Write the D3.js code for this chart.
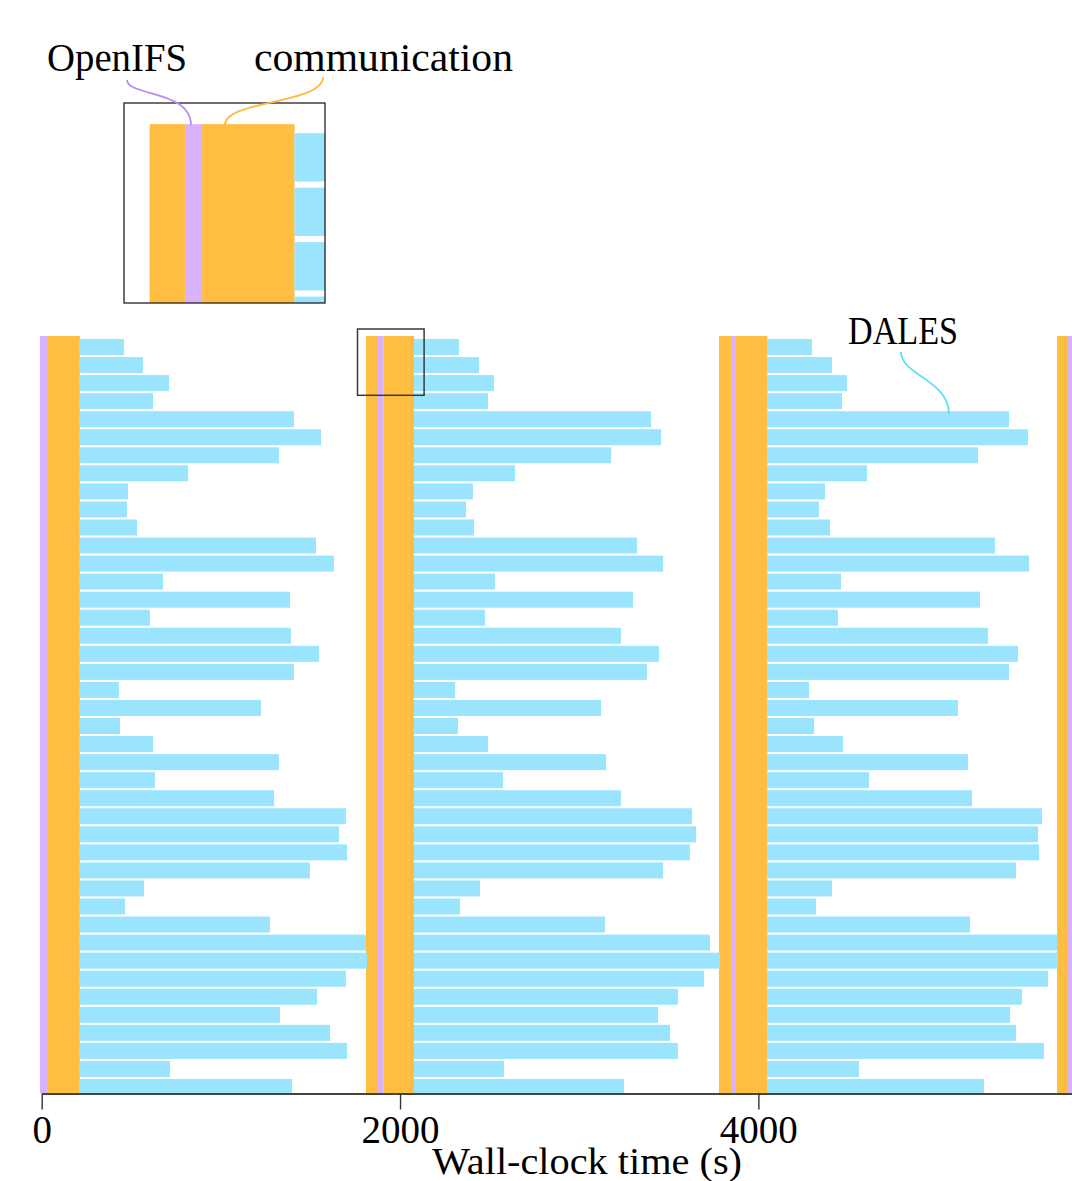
<!DOCTYPE html>
<html>
<head>
<meta charset="utf-8">
<script src="https://cdn.jsdelivr.net/npm/d3@7"></script>
<style>
  body { margin: 0; background: #fff; }
  svg { display: block; }
  text { font-family: "Liberation Serif", "Times New Roman", serif; fill: #000; }
</style>
</head>
<body>
<svg id="chart" width="1072" height="1181"></svg>
<script>
// ---- data (seconds of wall-clock time) ----
const instances = d3.range(1, 43);               // 42 DALES instances, one row each

const openifsRuns = [[-10, 35], [1877, 1907], [3847, 3875], [5728, 5758]];
const commRuns = [[35, 214], [1810, 1877], [1907, 2078], [3780, 3847], [3875, 4050], [5667, 5728]];

const dalesStart = [209, 2078, 4048];
const dalesEnd1 = [459, 565, 711, 621, 1408, 1559, 1324, 817, 482, 476, 532, 1531, 1631, 677,
  1386, 604, 1391, 1548, 1408, 431, 1224, 437, 621, 1324, 632, 1297, 1698, 1659, 1704, 1497,
  571, 465, 1274, 1810, 1816, 1698, 1537, 1330, 1609, 1704, 716, 1397];
const dalesEnd2 = [2329, 2441, 2524, 2491, 3401, 3457, 3178, 2642, 2407, 2368, 2413, 3323, 3468, 2530,
  3300, 2474, 3233, 3445, 3378, 2307, 3122, 2324, 2491, 3150, 2575, 3233, 3630, 3652, 3618, 3468,
  2446, 2335, 3144, 3730, 3786, 3697, 3551, 3440, 3507, 3551, 2580, 3250];
const dalesEnd3 = [4299, 4411, 4495, 4467, 5399, 5505, 5226, 4606, 4372, 4338, 4400, 5321, 5511, 4461,
  5237, 4444, 5282, 5449, 5399, 4283, 5114, 4311, 4472, 5170, 4618, 5192, 5583, 5561, 5566, 5438,
  4411, 4322, 5181, 5667, 5672, 5617, 5471, 5405, 5438, 5594, 4562, 5259];
const dalesEnds = [dalesEnd1, dalesEnd2, dalesEnd3];

const xTicks = [0, 2000, 4000];
const xTitle = "Wall-clock time (s)";

// ---- layout ----
const W = 1072, H = 1181;
const plotTop = 336, axisY = 1093.5;
const colors = { openifs: "#d9b2fe", comm: "#ffbe41", dales: "#9ae5fd" };
const leaderColors = { openifs: "#b98cf4", comm: "#fdbb3e", dales: "#62e1f8" };

const svg = d3.select("#chart");

const x = d3.scaleLinear().domain([0, 6000]).range([41.7, 1116.7]);
const y = d3.scaleBand().domain(instances).range([339, 1095]).paddingInner(0.113);

const bars = [];
dalesEnds.forEach((ends, c) => {
  ends.forEach((end, i) => bars.push({ row: instances[i], start: dalesStart[c], end }));
});

function drawMarks(g) {
  g.selectAll("rect.comm").data(commRuns).join("rect")
    .attr("class", "comm")
    .attr("x", d => x(d[0])).attr("width", d => x(d[1]) - x(d[0]))
    .attr("y", plotTop).attr("height", axisY - plotTop)
    .attr("fill", colors.comm);
  g.selectAll("rect.openifs").data(openifsRuns).join("rect")
    .attr("class", "openifs")
    .attr("x", d => x(d[0])).attr("width", d => x(d[1]) - x(d[0]))
    .attr("y", plotTop).attr("height", axisY - plotTop)
    .attr("fill", colors.openifs);
  g.selectAll("rect.dales").data(bars).join("rect")
    .attr("class", "dales")
    .attr("x", d => x(d.start)).attr("width", d => x(d.end) - x(d.start))
    .attr("y", d => y(d.row)).attr("height", y.bandwidth())
    .attr("fill", colors.dales);
}

const defs = svg.append("defs");
defs.append("clipPath").attr("id", "plot-clip")
  .append("rect").attr("x", 0).attr("y", plotTop).attr("width", W).attr("height", axisY - plotTop);

// main timeline
const main = svg.append("g").attr("clip-path", "url(#plot-clip)");
drawMarks(main);

// x axis
const axis = svg.append("g")
  .attr("transform", `translate(0,${axisY})`)
  .call(d3.axisBottom(x).tickValues(xTicks).tickFormat(d3.format("d"))
    .tickSize(16).tickPadding(6).tickSizeOuter(0));
axis.attr("font-family", null).attr("font-size", null);
axis.select(".domain").attr("stroke", "#444").attr("stroke-width", 2);
axis.selectAll(".tick line").attr("stroke", "#333").attr("stroke-width", 1.4);
axis.selectAll(".tick text").attr("fill", "#000").style("font-size", "39px");

svg.append("text")
  .attr("x", 587).attr("y", 1174)
  .attr("text-anchor", "middle")
  .attr("textLength", 310)
  .attr("lengthAdjust", "spacingAndGlyphs")
  .style("font-size", "38px")
  .text(xTitle);

// magnified detail of the second exchange
const src = { x: 357.5, y: 329, w: 66.6, h: 66.3 };
const frame = { x: 124, y: 103, w: 201, h: 200 };
const k = frame.w / src.w;

svg.append("rect")
  .attr("x", src.x).attr("y", src.y).attr("width", src.w).attr("height", src.h)
  .attr("fill", "none").attr("stroke", "#3a3a3a").attr("stroke-width", 1.5);

defs.append("clipPath").attr("id", "inset-clip")
  .append("rect").attr("x", frame.x).attr("y", frame.y).attr("width", frame.w).attr("height", frame.h);

const insetOuter = svg.append("g").attr("clip-path", "url(#inset-clip)");
insetOuter.append("rect")
  .attr("x", frame.x).attr("y", frame.y).attr("width", frame.w).attr("height", frame.h)
  .attr("fill", "#fff");
const inset = insetOuter.append("g")
  .attr("transform", `translate(${frame.x - src.x * k},${frame.y - src.y * k}) scale(${k})`);
drawMarks(inset);

svg.append("rect")
  .attr("x", frame.x).attr("y", frame.y).attr("width", frame.w).attr("height", frame.h)
  .attr("fill", "none").attr("stroke", "#222").attr("stroke-width", 1.3);

// annotations
const annotations = [
  { text: "OpenIFS", x: 47, y: 71, len: 140, color: leaderColors.openifs,
    path: "M127,80 C127,96 191,90 191,125" },
  { text: "communication", x: 254, y: 71, len: 259, color: leaderColors.comm,
    path: "M323,77 C323,104 225,100 225,125" },
  { text: "DALES", x: 848, y: 344, len: 110, color: leaderColors.dales,
    path: "M901,352 C901,375 949,380 949,414" }
];

svg.selectAll("path.leader").data(annotations).join("path")
  .attr("class", "leader")
  .attr("d", d => d.path)
  .attr("fill", "none")
  .attr("stroke", d => d.color)
  .attr("stroke-width", 1.8);

svg.selectAll("text.label").data(annotations).join("text")
  .attr("class", "label")
  .attr("x", d => d.x).attr("y", d => d.y)
  .attr("textLength", d => d.len)
  .attr("lengthAdjust", "spacingAndGlyphs")
  .style("font-size", "40px")
  .text(d => d.text);
</script>
</body>
</html>
